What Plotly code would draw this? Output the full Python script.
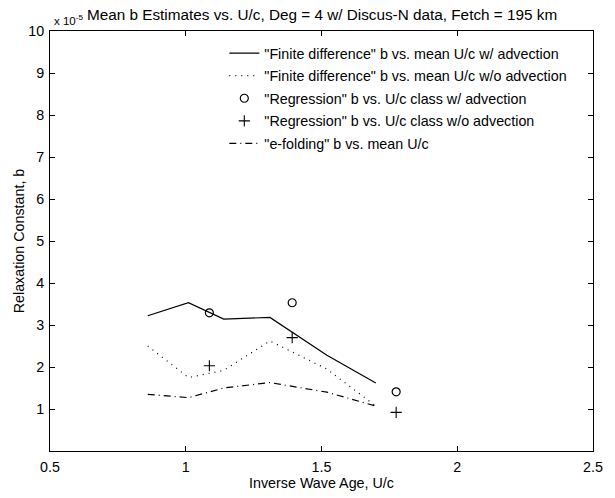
import plotly.graph_objects as go

# Mean U/c of each class and the b estimates (units of 1e-5)
uc_mean = [0.86, 1.01, 1.14, 1.31, 1.52, 1.70]
b_fd_adv = [3.22, 3.53, 3.14, 3.18, 2.28, 1.62]
b_fd_noadv = [2.50, 1.75, 1.92, 2.62, 1.95, 1.07]
b_efold = [1.35, 1.27, 1.50, 1.63, 1.40, 1.07]

# U/c class centres for the regression estimates
uc_class = [1.087, 1.392, 1.775]
b_reg_adv = [3.29, 3.53, 1.41]
b_reg_noadv = [2.03, 2.70, 0.92]

x_ticks = [0.5, 1, 1.5, 2, 2.5]
x_ticklabels = ["0.5", "1", "1.5", "2", "2.5"]
y_ticks = [1, 2, 3, 4, 5, 6, 7, 8, 9, 10]

FONT = "Liberation Sans, Arial, Helvetica, sans-serif"
BLACK = "#000000"
FS = 14.3

fig = go.Figure()

fig.add_trace(go.Scatter(
    x=uc_mean, y=b_fd_adv, mode="lines",
    line=dict(color=BLACK, width=1.2),
    name='"Finite difference" b vs. mean U/c w/ advection',
    legendgroup="a"))
fig.add_trace(go.Scatter(
    x=uc_mean, y=b_fd_noadv, mode="lines",
    line=dict(color=BLACK, width=1.2, dash="1px,5px"),
    name='"Finite difference" b vs. mean U/c w/o advection',
    legendgroup="b"))
fig.add_trace(go.Scatter(
    x=uc_class, y=b_reg_adv, mode="markers",
    marker=dict(symbol="circle-open", size=8, color=BLACK,
                line=dict(width=1.2, color=BLACK)),
    name='"Regression" b vs. U/c class w/ advection',
    legendgroup="c"))
fig.add_trace(go.Scatter(
    x=uc_class, y=b_reg_noadv, mode="markers",
    marker=dict(symbol="cross-thin-open", size=8, color=BLACK,
                line=dict(width=1.1, color=BLACK)),
    name='"Regression" b vs. U/c class w/o advection',
    legendgroup="d"))
fig.add_trace(go.Scatter(
    x=uc_mean, y=b_efold, mode="lines",
    line=dict(color=BLACK, width=1.2, dash="7px,4px,1px,4px"),
    name='"e-folding" b vs. mean U/c',
    legendgroup="e"))

axis_common = dict(
    showline=True, linecolor=BLACK, linewidth=1, mirror="ticks",
    ticks="inside", ticklen=5, tickcolor=BLACK, tickwidth=1,
    showgrid=False, zeroline=False,
    tickfont=dict(family=FONT, size=FS, color=BLACK),
)

fig.update_layout(
    width=615, height=498,
    margin=dict(l=50, r=17, t=31, b=41.5),
    paper_bgcolor="white", plot_bgcolor="white",
    font=dict(family=FONT, size=FS, color=BLACK),
    showlegend=True,
    legend=dict(
        x=0.321, y=0.985, xanchor="left", yanchor="top",
        bgcolor="rgba(0,0,0,0)", borderwidth=0,
        traceorder="grouped", tracegroupgap=1, itemwidth=30,
        font=dict(family=FONT, size=FS, color=BLACK),
    ),
    xaxis=dict(range=[0.5, 2.5], tickvals=x_ticks, ticktext=x_ticklabels,
               ticklabelstandoff=3,
               title=dict(text="Inverse Wave Age, U/c", standoff=1,
                          font=dict(family=FONT, size=FS, color=BLACK)),
               **axis_common),
    yaxis=dict(range=[0, 10], tickvals=y_ticks,
               ticklabelstandoff=2,
               title=dict(text="Relaxation Constant, b", standoff=0,
                          font=dict(family=FONT, size=FS, color=BLACK)),
               **axis_common),
)

fig.add_annotation(
    text="x 10<sup>-5</sup>", xref="paper", yref="paper",
    x=0.003, y=1.0, xanchor="left", yanchor="bottom", yshift=2,
    showarrow=False, font=dict(family=FONT, size=11.5, color=BLACK))
fig.add_annotation(
    text="Mean b Estimates vs. U/c, Deg = 4 w/ Discus-N data, Fetch = 195 km",
    xref="paper", yref="paper", x=0.064, y=1.0,
    xanchor="left", yanchor="bottom", yshift=6,
    showarrow=False, font=dict(family=FONT, size=15.3, color=BLACK))

fig.write_html("out.html")
